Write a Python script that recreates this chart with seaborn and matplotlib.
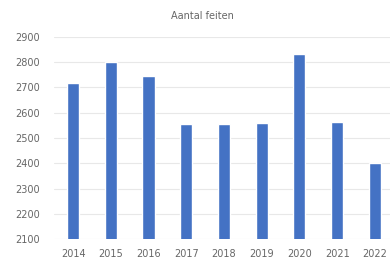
import matplotlib
matplotlib.use("Agg")
import matplotlib.pyplot as plt
import seaborn as sns
import pandas as pd

# data
years = ["2014", "2015", "2016", "2017", "2018", "2019", "2020", "2021", "2022"]
feiten = [2717, 2801, 2744, 2557, 2557, 2560, 2832, 2565, 2400]
y_ticks = [2100, 2200, 2300, 2400, 2500, 2600, 2700, 2800, 2900]

df = pd.DataFrame({"jaar": years, "feiten": feiten})

sns.set_theme(style="white")
plt.rcParams["font.family"] = ["DejaVu Sans"]

fig, ax = plt.subplots(figsize=(3.9, 2.63), dpi=100)
fig.subplots_adjust(left=0.139, right=1.0, top=0.86, bottom=0.09)

sns.barplot(data=df, x="jaar", y="feiten", color="#4472C4", width=0.32,
            saturation=1, ax=ax)

ax.set_xlim(-0.5, 8.40)
ax.set_ylim(2100, 2900)
ax.set_yticks(y_ticks)
ax.yaxis.grid(True, color="#e8e8e8", linewidth=0.8)
ax.set_axisbelow(True)
for s in ax.spines.values():
    s.set_visible(False)
ax.set_xlabel("")
ax.set_ylabel("")
ax.tick_params(axis="both", labelsize=7, colors="#666666", length=0)
ax.tick_params(axis="y", pad=10)
ax.tick_params(axis="x", pad=7)
fig.text(0.52, 0.94, "Aantal feiten", ha="center", va="center",
         fontsize=7, color="#666666")

fig.savefig("out.png", dpi=100)
